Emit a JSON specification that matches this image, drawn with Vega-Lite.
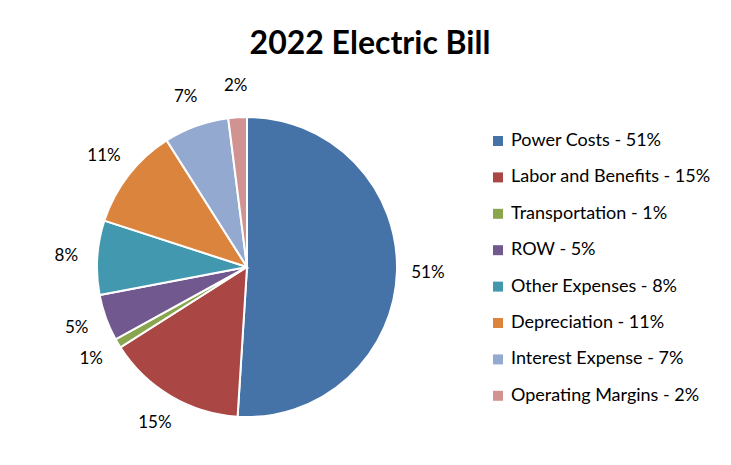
{
  "$schema": "https://vega.github.io/schema/vega-lite/v6.json",
  "autosize": {"type": "none"},
  "width": 340,
  "height": 340,
  "padding": {"left": 77, "top": 97, "right": 314, "bottom": 28},
  "background": "white",
  "title": {
    "text": "2022 Electric Bill",
    "font": "Lato",
    "fontSize": 32,
    "fontWeight": "bold",
    "color": "black",
    "anchor": "middle",
    "dx": 123,
    "offset": 16
  },
  "data": {
    "values": [
      {"category": "Power Costs - 51%", "value": 51, "pct": "51%", "rank": 1},
      {"category": "Labor and Benefits - 15%", "value": 15, "pct": "15%", "rank": 2},
      {"category": "Transportation - 1%", "value": 1, "pct": "1%", "rank": 3},
      {"category": "ROW - 5%", "value": 5, "pct": "5%", "rank": 4},
      {"category": "Other Expenses - 8%", "value": 8, "pct": "8%", "rank": 5},
      {"category": "Depreciation - 11%", "value": 11, "pct": "11%", "rank": 6},
      {"category": "Interest Expense - 7%", "value": 7, "pct": "7%", "rank": 7},
      {"category": "Operating Margins - 2%", "value": 2, "pct": "2%", "rank": 8}
    ]
  },
  "encoding": {
    "theta": {"field": "value", "type": "quantitative", "stack": true},
    "order": {"field": "rank", "type": "quantitative"}
  },
  "layer": [
    {
      "mark": {"type": "arc", "outerRadius": 150, "stroke": "white", "strokeWidth": 2},
      "encoding": {
        "color": {
          "field": "category",
          "type": "nominal",
          "sort": null,
          "scale": {
            "domain": ["Power Costs - 51%", "Labor and Benefits - 15%", "Transportation - 1%", "ROW - 5%", "Other Expenses - 8%", "Depreciation - 11%", "Interest Expense - 7%", "Operating Margins - 2%"],
            "range": ["#4572A7", "#AA4643", "#89A54E", "#71588F", "#4198AF", "#DB843D", "#93A9CF", "#D19392"]
          },
          "legend": {
            "title": null,
            "orient": "none",
            "legendX": 412,
            "legendY": 35,
            "symbolType": "square",
            "symbolSize": 100,
            "symbolStrokeWidth": 0,
            "labelFont": "Lato",
            "labelFontSize": 18,
            "labelColor": "black",
            "labelOffset": 4,
            "rowPadding": 18.4,
            "labelLimit": 300
          }
        }
      }
    },
    {
      "mark": {"type": "text", "radius": 181, "font": "Lato", "fontSize": 17, "color": "black"},
      "encoding": {
        "text": {"field": "pct", "type": "nominal"}
      }
    }
  ],
  "config": {"view": {"stroke": null}}
}
